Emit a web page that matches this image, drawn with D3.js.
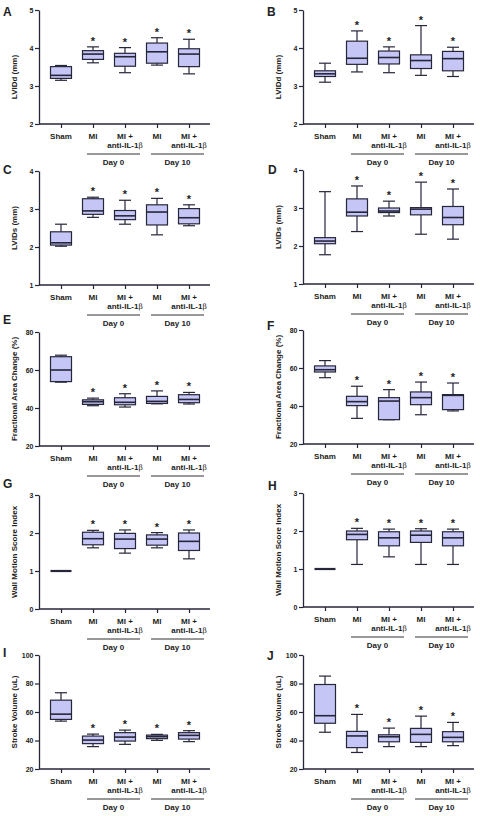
<!DOCTYPE html>
<html><head><meta charset="utf-8">
<script src="https://cdn.jsdelivr.net/npm/d3@7"></script>
<style>
body{margin:0;background:#fff}
svg{display:block}
text{font-family:Arial,"Liberation Sans",sans-serif;font-weight:bold;fill:#222}
</style>
</head><body>
<svg id="c" width="480" height="816"></svg>
<script>
// ---------- DATA ----------
const categories = ["Sham", "MI", "MI +|anti-IL-1β", "MI", "MI +|anti-IL-1β"];
const groupLabels = ["Day 0", "Day 10"];
const significant = [false, true, true, true, true];

// box stats per group: [min, q1, median, q3, max]
const lviddA = [[3.15,3.20,3.28,3.51,3.54],[3.61,3.70,3.84,3.93,4.03],[3.35,3.52,3.77,3.86,4.01],[3.55,3.60,3.90,4.13,4.27],[3.32,3.51,3.84,3.98,4.23]];
const lviddB = [[3.10,3.25,3.32,3.40,3.60],[3.37,3.57,3.73,4.18,4.45],[3.35,3.58,3.75,3.92,4.03],[3.28,3.46,3.67,3.82,4.59],[3.25,3.40,3.72,3.91,4.02]];
const lvidsC = [[2.02,2.05,2.11,2.40,2.60],[2.78,2.86,2.95,3.27,3.31],[2.60,2.72,2.82,2.96,3.23],[2.32,2.58,2.92,3.11,3.28],[2.56,2.61,2.77,3.01,3.11]];
const lvidsD = [[1.77,2.06,2.13,2.22,3.43],[2.38,2.79,2.89,3.24,3.58],[2.79,2.88,2.92,3.00,3.18],[2.31,2.82,2.97,3.01,3.68],[2.18,2.56,2.75,3.04,3.50]];
const facE = [[53.6,53.9,60.0,67.0,67.8],[41.2,41.9,43.3,44.3,45.2],[40.5,41.7,43.0,45.4,47.5],[42.2,42.4,43.5,46.1,49.0],[42.1,42.8,44.5,47.0,48.2]];
const facF = [[54.9,57.9,59.1,61.1,63.9],[33.5,40.2,42.3,45.1,50.4],[32.8,32.8,42.6,44.4,48.6],[35.4,40.7,44.4,47.4,52.6],[37.4,38.1,45.6,46.0,52.1]];
const wmsiG = [[1,1,1,1,1],[1.61,1.69,1.85,2.02,2.07],[1.47,1.59,1.84,1.99,2.08],[1.61,1.68,1.84,1.95,2.01],[1.32,1.54,1.78,2.00,2.08]];
const wmsiH = [[1,1,1,1,1],[1.12,1.77,1.91,2.00,2.07],[1.32,1.61,1.82,1.98,2.05],[1.12,1.70,1.89,2.00,2.06],[1.12,1.61,1.82,1.98,2.05]];
const svI = [[53.6,54.8,58.5,68.3,73.5],[35.7,37.8,40.3,43.1,44.5],[37.3,39.6,42.4,45.5,47.3],[40.1,41.3,42.7,43.8,44.3],[39.2,41.0,43.6,45.5,46.9]];
const svJ = [[45.8,52.1,57.4,79.3,85.2],[31.6,35.0,43.2,46.4,58.3],[35.7,39.1,42.6,44.0,48.7],[35.7,38.7,44.3,48.5,57.1],[36.4,39.1,42.2,46.2,52.7]];

const ticksLVIDd = [2, 3, 4, 5];
const ticksLVIDs = [1, 2, 3, 4];
const ticksFAC = [20, 40, 60, 80];
const ticksWMSI = [0, 1, 2, 3];
const ticksSV = [20, 40, 60, 80, 100];

// ---------- LAYOUT ----------
const colX = [39, 303];
const rowTop = [[10, 171, 332, 495, 655], [10, 170, 330, 493, 655]];
const plotH = 114, plotW = 171;
const letterPos = {A:[3,16],B:[267,16],C:[3,174],D:[268,174],E:[3,324],F:[267,330],G:[3,488],H:[268,490],I:[3,657],J:[267,660]};

const panels = [
  {id:"A", col:0, row:0, data:lviddA, ticks:ticksLVIDd, label:"LVIDd (mm)", lblOff:10},
  {id:"B", col:1, row:0, data:lviddB, ticks:ticksLVIDd, label:"LVIDd (mm)", lblOff:10},
  {id:"C", col:0, row:1, data:lvidsC, ticks:ticksLVIDs, label:"LVIDs (mm)", lblOff:0},
  {id:"D", col:1, row:1, data:lvidsD, ticks:ticksLVIDs, label:"LVIDs (mm)", lblOff:0},
  {id:"E", col:0, row:2, data:facE, ticks:ticksFAC, label:"Fractional Area Change (%)", lblOff:0},
  {id:"F", col:1, row:2, data:facF, ticks:ticksFAC, label:"Fractional Area Change (%)", lblOff:0},
  {id:"G", col:0, row:3, data:wmsiG, ticks:ticksWMSI, label:"Wall Motion Score Index", lblOff:0},
  {id:"H", col:1, row:3, data:wmsiH, ticks:ticksWMSI, label:"Wall Motion Score Index", lblOff:0},
  {id:"I", col:0, row:4, data:svI, ticks:ticksSV, label:"Stroke Volume (uL)", lblOff:0},
  {id:"J", col:1, row:4, data:svJ, ticks:ticksSV, label:"Stroke Volume (uL)", lblOff:0}
];

const svg = d3.select("#c");
const boxFill = "#c6c6f6", ink = "#26263a";
const boxW = 21, capW = 12;

panels.forEach(p => {
  const x0 = colX[p.col], top = rowTop[p.col][p.row], bottom = top + plotH;
  const y = d3.scaleLinear().domain(d3.extent(p.ticks)).range([bottom, top]);
  const x = d3.scalePoint().domain(d3.range(categories.length)).range([x0 + 22, x0 + 150]);
  const g = svg.append("g");

  // panel letter
  svg.append("text").attr("x", letterPos[p.id][0]).attr("y", letterPos[p.id][1])
    .attr("font-size", 12).text(p.id);

  // y axis
  const ya = g.append("g").attr("transform", `translate(${x0},0)`)
    .call(d3.axisLeft(y).tickValues(p.ticks).tickFormat(d3.format("d")).tickSize(4).tickSizeOuter(0).tickPadding(1.5));
  ya.select(".domain").attr("stroke", ink).attr("stroke-width", 1.3);
  ya.selectAll(".tick line").attr("stroke", ink).attr("stroke-width", 1.2);
  ya.selectAll(".tick text").attr("font-size", 7).attr("font-family", "Arial, 'Liberation Sans', sans-serif").attr("font-weight", "bold").attr("fill", "#222");

  // x axis
  g.append("line").attr("x1", x0).attr("x2", x0 + plotW).attr("y1", bottom).attr("y2", bottom)
    .attr("stroke", ink).attr("stroke-width", 1.3);
  const xa = g.append("g").attr("transform", `translate(0,${bottom})`)
    .call(d3.axisBottom(x).tickSize(4).tickFormat(""));
  xa.select(".domain").remove();
  xa.selectAll(".tick line").attr("stroke", ink).attr("stroke-width", 1.2);

  // y label
  g.append("text")
    .attr("transform", `translate(${x0 - 25},${(top + bottom) / 2 + p.lblOff}) rotate(-90)`)
    .attr("text-anchor", "middle").attr("dy", "0.35em").attr("font-size", 8).text(p.label);

  // category labels
  categories.forEach((c, i) => {
    const lines = c.split("|");
    lines.forEach((ln, j) => {
      const t = g.append("text").attr("x", x(i)).attr("y", bottom + 15 + j * 9)
        .attr("text-anchor", "middle").attr("font-size", 8);
      if (ln.includes("β")) {
        t.append("tspan").text(ln.replace("β", ""));
        t.append("tspan").attr("font-weight", "normal").attr("font-family", "'DejaVu Serif', serif").attr("font-size", 7.5).text("β");
      } else t.text(ln);
    });
  });

  // group lines & labels
  groupLabels.forEach((gl, k) => {
    const a = x(1 + 2 * k) - 6, b = x(2 + 2 * k) + 15;
    g.append("line").attr("x1", a).attr("x2", b).attr("y1", bottom + 30).attr("y2", bottom + 30)
      .attr("stroke", "#333").attr("stroke-width", 1);
    g.append("text").attr("x", (a + b) / 2).attr("y", bottom + 40.5)
      .attr("text-anchor", "middle").attr("font-size", 8).text(gl);
  });

  // boxes
  const bx = g.selectAll(".bx").data(p.data).join("g").attr("transform", (d, i) => `translate(${x(i)},0)`);
  bx.append("line").attr("y1", d => y(d[0])).attr("y2", d => y(d[1])).attr("stroke", ink).attr("stroke-width", 1.2);
  bx.append("line").attr("y1", d => y(d[3])).attr("y2", d => y(d[4])).attr("stroke", ink).attr("stroke-width", 1.2);
  bx.append("line").attr("x1", -capW / 2).attr("x2", capW / 2).attr("y1", d => y(d[0])).attr("y2", d => y(d[0])).attr("stroke", ink).attr("stroke-width", 1.2);
  bx.append("line").attr("x1", -capW / 2).attr("x2", capW / 2).attr("y1", d => y(d[4])).attr("y2", d => y(d[4])).attr("stroke", ink).attr("stroke-width", 1.2);
  bx.append("rect").attr("x", -boxW / 2).attr("width", boxW)
    .attr("y", d => y(d[3])).attr("height", d => y(d[1]) - y(d[3]))
    .attr("fill", boxFill).attr("stroke", ink).attr("stroke-width", 1.2);
  bx.append("line").attr("x1", -boxW / 2).attr("x2", boxW / 2).attr("y1", d => y(d[2])).attr("y2", d => y(d[2]))
    .attr("stroke", ink).attr("stroke-width", d => d[1] === d[3] ? 2.2 : 1.6);
  bx.filter((d, i) => significant[i]).append("text")
    .attr("y", d => y(d[4]) - 2).attr("text-anchor", "middle").attr("font-size", 11).text("*");
});
</script>
</body></html>
